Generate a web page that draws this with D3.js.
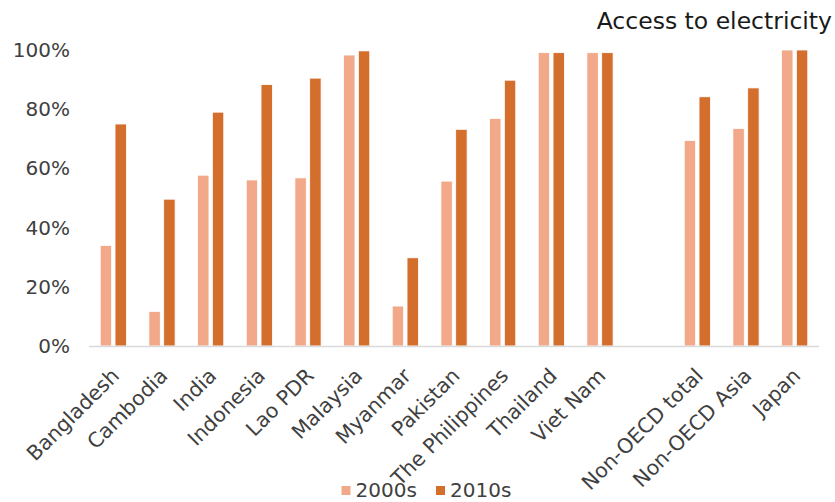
<!DOCTYPE html>
<html>
<head>
<meta charset="utf-8">
<script src="https://cdn.jsdelivr.net/npm/d3@7/dist/d3.min.js"></script>
<style>
  html, body { margin: 0; padding: 0; background: #fff; }
  svg { display: block; font-family: "DejaVu Sans", Verdana, sans-serif; }
</style>
</head>
<body>
<svg id="chart" width="835" height="502"></svg>
<script>
// Share of population with access to electricity, two decades per country/region
const categories = ["Bangladesh", "Cambodia", "India", "Indonesia", "Lao PDR", "Malaysia",
  "Myanmar", "Pakistan", "The Philippines", "Thailand", "Viet Nam", "",
  "Non-OECD total", "Non-OECD Asia", "Japan"];
const series = ["2000s", "2010s"];
const values2000s = [0.34, 0.117, 0.577, 0.561, 0.568, 0.983, 0.135, 0.557, 0.769, 0.991, 0.991, null, 0.694, 0.735, 1.0];
const values2010s = [0.75, 0.496, 0.79, 0.883, 0.905, 0.997, 0.298, 0.732, 0.898, 0.991, 0.991, null, 0.842, 0.872, 1.0];
const yTicks = [0, 0.2, 0.4, 0.6, 0.8, 1.0];
const colors = { "2000s": "#F2A98A", "2010s": "#D36E2C" };

const svg = d3.select("#chart");
const plotLeft = 89, plotRight = 819, plotTop = 50, plotBottom = 346;

const x = d3.scaleBand().domain(d3.range(categories.length)).range([plotLeft, plotRight]).paddingInner(0).paddingOuter(0);
const groupW = 26.2;
const x1 = d3.scaleBand().domain(series).range([0, groupW]).paddingInner(0.23);
const y = d3.scaleLinear().domain([0, 1]).range([plotBottom, plotTop]);

// bars
const seriesValues = { "2000s": values2000s, "2010s": values2010s };
series.forEach(s => {
  svg.append("g").selectAll("rect")
    .data(categories.map((c, i) => ({ i, v: seriesValues[s][i] })).filter(d => d.v != null))
    .join("rect")
    .attr("x", d => x(d.i) + x.bandwidth() / 2 - groupW / 2 + x1(s))
    .attr("width", x1.bandwidth())
    .attr("y", d => y(d.v))
    .attr("height", d => y(0) - y(d.v))
    .attr("fill", colors[s])
    .attr("stroke", "#fff")
    .attr("stroke-width", 0.8);
});

// baseline
svg.append("line")
  .attr("x1", plotLeft).attr("x2", plotRight)
  .attr("y1", y(0) + 0.5).attr("y2", y(0) + 0.5)
  .attr("stroke", "#d9d9d9").attr("stroke-width", 1.6);

// y axis labels
const yAxis = d3.axisLeft(y).tickValues(yTicks).tickFormat(d3.format(".0%")).tickSize(0).tickPadding(0);
const yg = svg.append("g").attr("transform", "translate(70,0)").call(yAxis);
yg.select(".domain").remove();
yg.selectAll("text").attr("font-size", 20).attr("fill", "#404040")
  .attr("font-family", "DejaVu Sans, Verdana, sans-serif");

// x axis labels, rotated
const xAxis = d3.axisBottom(x).tickFormat(i => categories[i]).tickSize(0).tickPadding(0);
const xg = svg.append("g").attr("transform", `translate(0,${plotBottom})`).call(xAxis);
xg.select(".domain").remove();
xg.selectAll(".tick text")
  .attr("font-size", 20.5).attr("fill", "#404040")
  .attr("font-family", "DejaVu Sans, Verdana, sans-serif")
  .attr("text-anchor", "end")
  .attr("dy", 0)
  .attr("y", 0)
  .attr("transform", "translate(7,31) rotate(-45)");

// title
svg.append("text")
  .attr("x", 832).attr("y", 29)
  .attr("text-anchor", "end")
  .attr("font-size", 23.5).attr("fill", "#1a1a1a")
  .text("Access to electricity");

// legend
const legend = svg.append("g");
const legendX = [341.5, 436];
series.forEach((s, k) => {
  legend.append("rect")
    .attr("x", legendX[k]).attr("y", 486).attr("width", 9).attr("height", 9)
    .attr("fill", colors[s]);
  legend.append("text")
    .attr("x", legendX[k] + 14).attr("y", 497)
    .attr("font-size", 20).attr("fill", "#404040")
    .text(s);
});
</script>
</body>
</html>
